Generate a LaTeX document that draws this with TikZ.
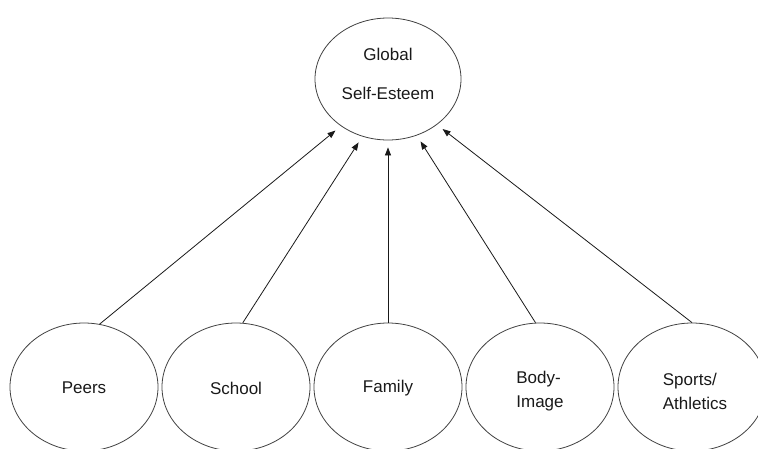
\documentclass[tikz,border=0pt]{standalone}
\usepackage{fontspec}
\setmainfont{Liberation Sans}
\usetikzlibrary{shapes.geometric,arrows.meta}
\begin{document}
\begin{tikzpicture}[x=1pt,y=-1pt,
  blob/.style={draw=black!75,line width=0.8pt,ellipse,inner sep=0pt,minimum width=148pt,minimum height=128pt},
  lbl/.style={font=\fontsize{17}{24}\selectfont,text=black!90,align=left,inner sep=0pt},
  link/.style={draw=black!90,line width=0.8pt,-{Triangle[length=8pt,width=6pt]},shorten >=7pt}]
\useasboundingbox (0,0) rectangle (758,448);
\node[blob,minimum width=146pt,minimum height=122pt] (g) at (388,79) {};
\node[lbl] (gt1) at (388,54) {Global};
\node[lbl] (gt2) at (388,93) {Self-Esteem};
\node[blob] (p) at (84,387) {};
\node[blob] (s) at (236,387) {};
\node[blob] (f) at (388,387) {};
\node[blob] (b) at (540,387) {};
\node[blob] (a) at (692,387) {};
\node[lbl] (pt) at (84,388) {Peers};
\node[lbl] (st) at (236,388) {School};
\node[lbl] (ft) at (388,388) {Family};
\node[lbl] (bt) at (540,391) {Body-\\Image};
\node[lbl] (at) at (695,391) {Sports/\\Athletics};
\draw[link] (p.76) -- (g.225.5);
\draw[link] (s.84) -- (g.246);
\draw[link] (f.90) -- (g.270);
\draw[link] (b.94.5) -- (g.297);
\draw[link] (a.90) -- (g.317);
\end{tikzpicture}
\end{document}
